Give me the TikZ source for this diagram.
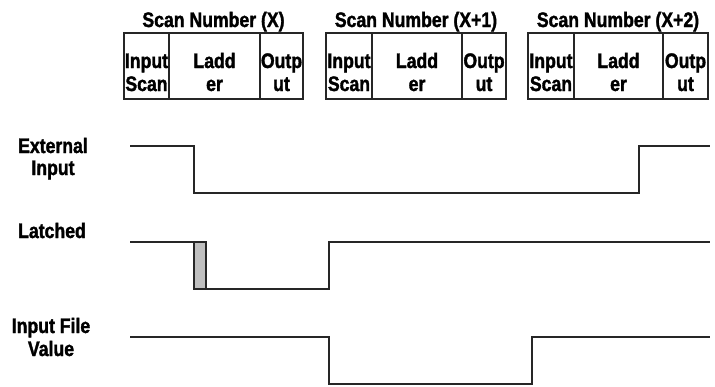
\documentclass[tikz,border=0pt]{standalone}
\usepackage{fontspec}
\setmainfont{Liberation Sans}[FakeStretch=0.84,
  BoldFont={Liberation Sans Bold},
  BoldFeatures={FakeStretch=0.84,FakeBold=1.6}]
\begin{document}
\begin{tikzpicture}[x=1pt,y=-1pt,
  lbl/.style={font=\fontsize{21}{23}\selectfont\bfseries, inner sep=0pt, anchor=base},
  wave/.style={line width=1.3pt, draw=black!85},
  cell/.style={line width=1.2pt, draw=black!85}]
\useasboundingbox (0,0) rectangle (715,386);
% titles
\node[lbl] (t1) at (213.5,27) {Scan Number (X)};
\node[lbl] (t2) at (416,27) {Scan Number (X+1)};
\node[lbl] (t3) at (618,27) {Scan Number (X+2)};
% scan boxes
\draw[cell] (124,33) rectangle (303,99);
\draw[cell] (169,33) -- (169,99);
\draw[cell] (260,33) -- (260,99);
\draw[cell] (326,33) rectangle (506,99);
\draw[cell] (372,33) -- (372,99);
\draw[cell] (462,33) -- (462,99);
\draw[cell] (528,33) rectangle (708,99);
\draw[cell] (574,33) -- (574,99);
\draw[cell] (663,33) -- (663,99);
% cell texts
\node[lbl] (a1) at (146.5,68) {Input};
\node[lbl] (a2) at (146.5,91) {Scan};
\node[lbl] (a3) at (214.5,68) {Ladd};
\node[lbl] (a4) at (214.5,91) {er};
\node[lbl] (a5) at (281.5,68) {Outp};
\node[lbl] (a6) at (281.5,91) {ut};
\node[lbl] (b1) at (349,68) {Input};
\node[lbl] (b2) at (349,91) {Scan};
\node[lbl] (b3) at (417,68) {Ladd};
\node[lbl] (b4) at (417,91) {er};
\node[lbl] (b5) at (484,68) {Outp};
\node[lbl] (b6) at (484,91) {ut};
\node[lbl] (c1) at (551,68) {Input};
\node[lbl] (c2) at (551,91) {Scan};
\node[lbl] (c3) at (618.5,68) {Ladd};
\node[lbl] (c4) at (618.5,91) {er};
\node[lbl] (c5) at (685.5,68) {Outp};
\node[lbl] (c6) at (685.5,91) {ut};
% signal labels
\node[lbl] (l1) at (53,153) {External};
\node[lbl] (l2) at (53,175) {Input};
\node[lbl] (l3) at (52,238) {Latched};
\node[lbl] (l4) at (51,333) {Input File};
\node[lbl] (l5) at (51,356) {Value};
% waveforms
\draw[wave] (130,146) -| (194,193) -| (639,146) -- (710,146);
\draw[wave] (130,242) -| (194,289) -| (329,242) -- (710,242);
\filldraw[wave, fill=black!25] (194,242) rectangle (206,289);
\draw[wave] (130,337) -| (329,384) -| (532,337) -- (710,337);
\end{tikzpicture}
\end{document}
